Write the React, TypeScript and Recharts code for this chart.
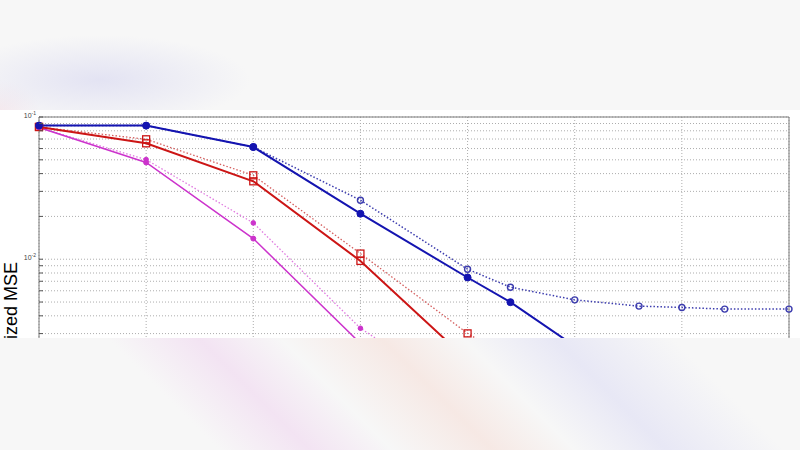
import React from 'react';
import { LineChart, Line, XAxis, YAxis, CartesianGrid, ReferenceArea } from 'recharts';

// x positions (dB) of the measured points
const snr = [0, 5, 10, 15, 20, 22, 25, 28, 30, 32, 35];

const blueSolid = [0.087, 0.087, 0.0615, 0.0209, 0.00744, 0.00499, 0.00245, null, null, null, null];
const blueDotted = [0.087, 0.087, 0.0615, 0.026, 0.00851, 0.00636, 0.00518, 0.00468, 0.00458, 0.00446, 0.00446];
const redSolid = [0.0851, 0.0653, 0.0353, 0.00973, 0.00195, null, null, null, null, null, null];
const redDotted = [0.0851, 0.0697, 0.0389, 0.01096, 0.00301, 0.00199, null, null, null, null, null];
const magSolid = [0.0843, 0.0479, 0.01397, 0.00256, null, null, null, null, null, null, null];
const magDotted = [0.0843, 0.0502, 0.018, 0.00327, 0.00105, null, null, null, null, null, null];

const xTicks = [0, 5, 10, 15, 20, 25, 30, 35];
const yTicks = [0.003, 0.004, 0.005, 0.006, 0.007, 0.008, 0.009, 0.01, 0.02, 0.03, 0.04, 0.05, 0.06, 0.07, 0.08, 0.09, 0.1];
const yLabels: Record<string, string> = { '0.1': '-1', '0.01': '-2' };

const data = snr.map((x, i) => ({
  x,
  bs: blueSolid[i],
  bd: blueDotted[i],
  rs: redSolid[i],
  rd: redDotted[i],
  ms: magSolid[i],
  md: magDotted[i],
}));

const BLUE = '#1414b0';
const BLUE_DOT = '#3c3cae';
const RED = '#cc1515';
const RED_DOT = '#d56060';
const MAG = '#cc33cc';
const MAG_DOT = '#e07ae0';

const FilledCircle = (color: string, r: number) => (p: any) => {
  if (p.cy == null || p.value == null) return <g key={p.key} />;
  return <circle key={p.key} cx={p.cx} cy={p.cy} r={r} fill={color} stroke={color} />;
};
const OpenCircle = (color: string) => (p: any) => {
  if (p.cy == null || p.value == null) return <g key={p.key} />;
  return <circle key={p.key} cx={p.cx} cy={p.cy} r={3} fill="none" stroke={color} strokeWidth={1.4} />;
};
const Square = (color: string) => (p: any) => {
  if (p.cy == null || p.value == null) return <g key={p.key} />;
  return <rect key={p.key} x={p.cx - 3.5} y={p.cy - 3.5} width={7} height={7} fill="none" stroke={color} strokeWidth={1.3} />;
};

const LeftTick = (p: any) => {
  const v = p.payload.value;
  const sup = yLabels[String(v)];
  return (
    <g>
      <line x1={p.x} x2={p.x + 4} y1={p.y} y2={p.y} stroke="#555" />
      {sup && (
        <text x={p.x - 3} y={p.y + 1} textAnchor="end" fontSize={7} fill="#444" fontFamily="Liberation Sans, Arial, sans-serif">
          <tspan>10</tspan>
          <tspan dy={-3} fontSize={5}>{sup}</tspan>
        </text>
      )}
    </g>
  );
};

const RightTick = (p: any) => (
  <line x1={p.x - 4} x2={p.x} y1={p.y} y2={p.y} stroke="#444" />
);

const TopTick = (p: any) => (
  <line x1={p.x} x2={p.x} y1={p.y} y2={p.y + 4} stroke="#555" />
);

const NoTick = () => <g />;

const App: React.FC = () => {
  return (
    <div
      style={{
        position: 'fixed',
        left: 0,
        top: 0,
        width: 800,
        height: 450,
        overflow: 'hidden',
        background: '#f7f7f7',
      }}
    >
      {/* blurred backdrop above the chart */}
      <div
        style={{
          position: 'absolute',
          left: 0,
          top: 0,
          width: 800,
          height: 110,
          background:
            'radial-gradient(ellipse 150px 45px at 100px 80px, rgba(222,222,242,0.8), rgba(247,247,247,0) 100%),' +
            'radial-gradient(ellipse 40px 30px at 0px 110px, rgba(245,225,232,0.6), rgba(247,247,247,0) 100%)',
        }}
      />
      {/* blurred backdrop below the chart */}
      <div
        style={{
          position: 'absolute',
          left: 0,
          top: 338,
          width: 800,
          height: 112,
          background:
            'linear-gradient(45deg, rgba(247,247,247,0) 24%, rgba(242,224,242,0.85) 34%, rgba(247,247,247,0) 43%, rgba(246,230,225,0.85) 54%, rgba(247,247,247,0) 63%, rgba(229,229,245,0.85) 73%, rgba(247,247,247,0) 86%)',
        }}
      />
      <div
        style={{
          position: 'absolute',
          left: 0,
          top: 110,
          width: 800,
          height: 228,
          overflow: 'hidden',
          background: '#fff',
        }}
      >
        <LineChart width={800} height={241} data={data} margin={{ top: 7, right: 11, bottom: 0, left: 0 }}>
          <CartesianGrid stroke="#adadad" strokeDasharray="1 2" />
          <XAxis dataKey="x" type="number" domain={[0, 35]} ticks={xTicks} interval={0} height={1} tick={<NoTick />} axisLine={false} tickLine={false} />
          <XAxis xAxisId="top" orientation="top" type="number" domain={[0, 35]} ticks={xTicks} interval={0} height={0} axisLine={false} tickLine={false} tickSize={0} tickMargin={0} tick={<TopTick />} />
          <YAxis
            type="number"
            scale="log"
            domain={[0.0023, 0.1]}
            allowDataOverflow
            ticks={yTicks}
            width={39}
            axisLine={false}
            tickLine={false}
            tickSize={0}
            tickMargin={0}
            tick={<LeftTick />}
            interval={0}
          />
          <YAxis
            yAxisId="right"
            orientation="right"
            type="number"
            scale="log"
            domain={[0.0023, 0.1]}
            allowDataOverflow
            ticks={yTicks}
            width={0}
            axisLine={false}
            tickLine={false}
            tickSize={0}
            tickMargin={0}
            tick={<RightTick />}
            interval={0}
          />
          <ReferenceArea x1={0} x2={35} y1={0.0023} y2={0.1} fill="none" stroke="#7a7a7a" strokeWidth={1} ifOverflow="visible" />

          <Line dataKey="bd" stroke={BLUE_DOT} strokeWidth={1.5} strokeDasharray="1.5 2" dot={OpenCircle(BLUE_DOT)} isAnimationActive={false} />
          <Line dataKey="rd" stroke={RED_DOT} strokeWidth={1.3} strokeDasharray="1.5 2" dot={Square(RED)} isAnimationActive={false} />
          <Line dataKey="md" stroke={MAG_DOT} strokeWidth={1.3} strokeDasharray="1.5 2" dot={FilledCircle(MAG, 2.3)} isAnimationActive={false} />
          <Line dataKey="ms" stroke={MAG} strokeWidth={1.5} dot={FilledCircle(MAG, 2.5)} isAnimationActive={false} />
          <Line dataKey="rs" stroke={RED} strokeWidth={2} dot={Square(RED)} isAnimationActive={false} />
          <Line dataKey="bs" stroke={BLUE} strokeWidth={2} dot={FilledCircle(BLUE, 3.5)} isAnimationActive={false} />
        </LineChart>
        <svg style={{ position: 'absolute', left: 0, top: 0 }} width={30} height={228}>
          <text
            x={17}
            y={152}
            transform="rotate(-90 17 152)"
            textAnchor="end"
            fontSize={18}
            fill="#000"
            fontFamily="Liberation Sans, Arial, sans-serif"
          >
            ized MSE
          </text>
        </svg>
      </div>
    </div>
  );
};

export default App;
